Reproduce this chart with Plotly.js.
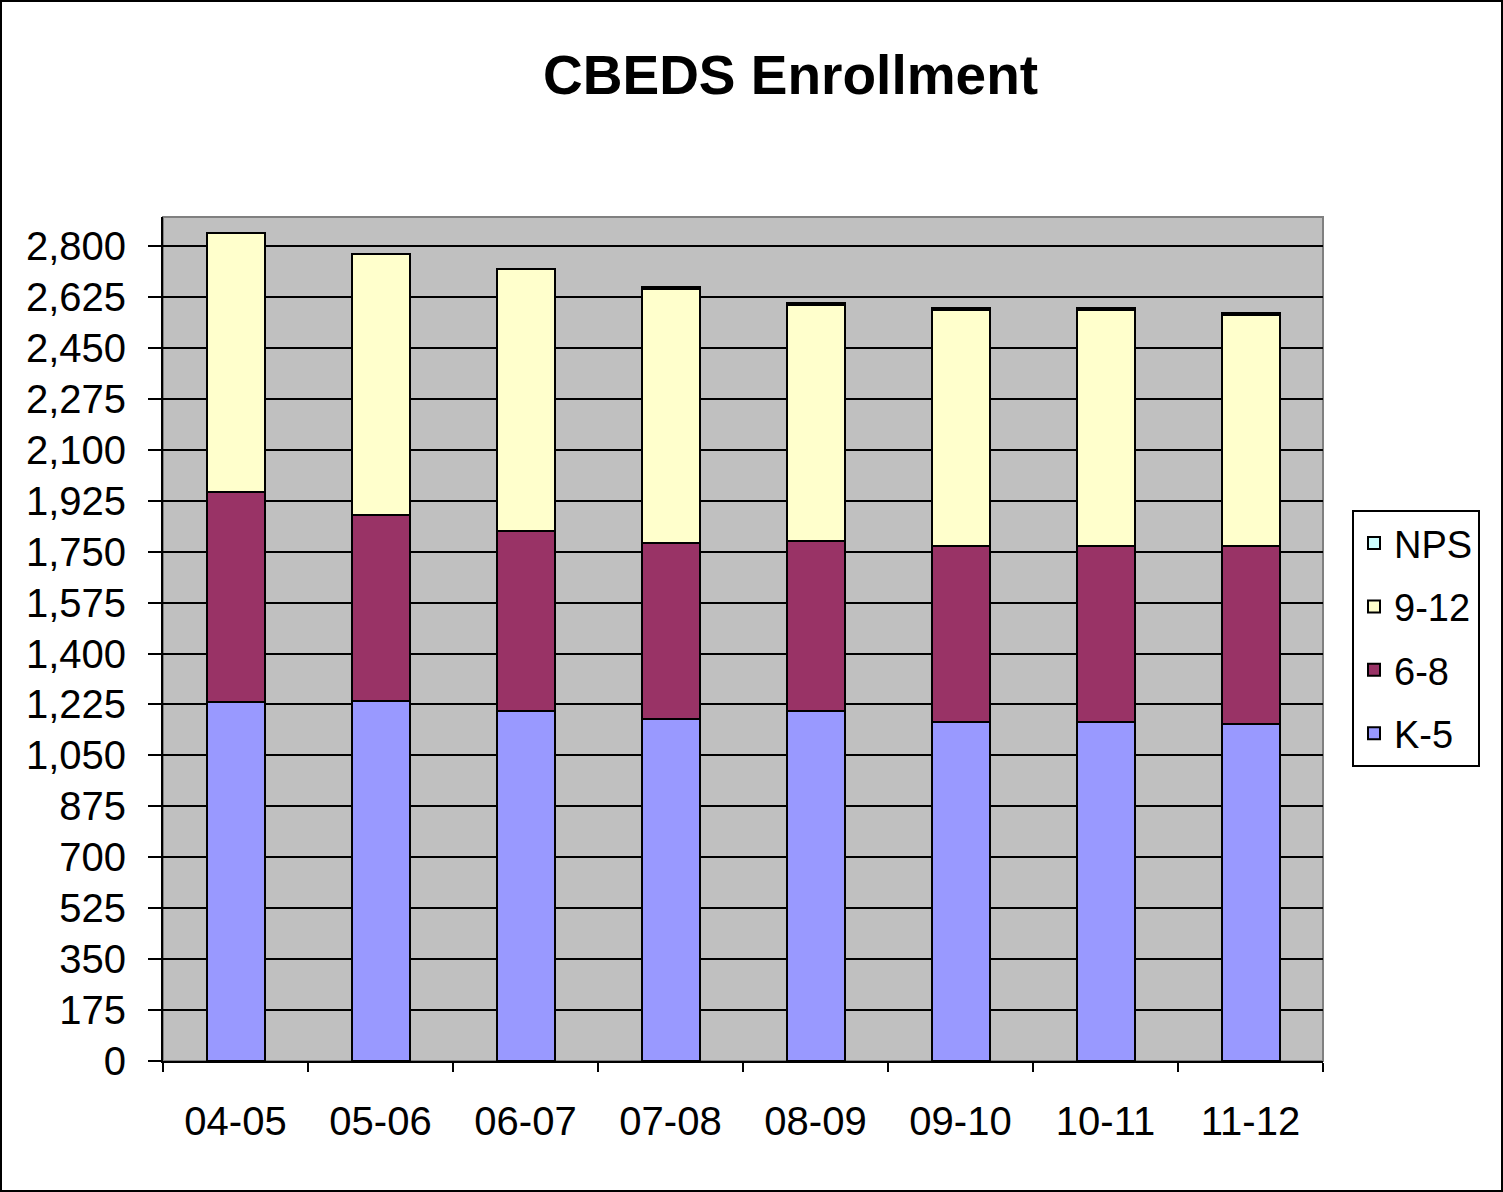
<!DOCTYPE html>
<html>
<head>
<meta charset="utf-8">
<script src="https://cdn.plot.ly/plotly-3.0.1.min.js"></script>
<style>
  html, body { margin: 0; padding: 0; background: #fff; }
  #wrap { position: relative; width: 1503px; height: 1192px; }
  #chart { width: 1503px; height: 1192px; }
  #frame { position: absolute; left: 0; top: 0; width: 1503px; height: 1192px; box-sizing: border-box; border: 2px solid #000; pointer-events: none; }
</style>
</head>
<body>
<div id="wrap"><div id="chart"></div><div id="frame"></div></div>
<script>
const years = ["04-05", "05-06", "06-07", "07-08", "08-09", "09-10", "10-11", "11-12"];
const k5    = [1234, 1236, 1201, 1174, 1202, 1166, 1166, 1157];
const g68   = [722, 640, 621, 605, 584, 603, 603, 612];
const g912  = [890, 898, 898, 873, 813, 811, 811, 794];
const nps   = [0, 0, 0, 6, 6, 6, 6, 6];
const yTicks = [0, 175, 350, 525, 700, 875, 1050, 1225, 1400, 1575, 1750, 1925, 2100, 2275, 2450, 2625, 2800];

const FONT = "Liberation Sans, Arial, sans-serif";
const line = { color: "#000", width: 2 };

function tr(name, vals, color, rank) {
  return { type: "bar", name: name, x: years, y: vals, legendgroup: name, legendrank: rank,
           marker: { color: color, line: line }, hoverinfo: "x+y+name" };
}

const data = [
  tr("K-5", k5, "#9999ff", 4),
  tr("6-8", g68, "#993366", 3),
  tr("9-12", g912, "#ffffcc", 2),
  tr("NPS", nps, "#ccffff", 1)
];

const layout = {
  width: 1503, height: 1192,
  margin: { l: 163, r: 180, t: 217, b: 131 },
  paper_bgcolor: "#fff",
  plot_bgcolor: "#c0c0c0",
  barmode: "stack",
  bargap: 0.6,
  font: { family: FONT, color: "#000", size: 38 },
  title: { text: "CBEDS Enrollment", font: { family: FONT, size: 55, weight: "bold", color: "#000" },
           x: 0.526, xref: "container", y: 0.937, yref: "container", xanchor: "center", yanchor: "middle" },
  xaxis: {
    type: "category", showgrid: false, showline: true, linecolor: "#000", linewidth: 2,
    ticks: "outside", tickson: "boundaries", ticklen: 9, tickwidth: 2, tickcolor: "#000",
    tickfont: { family: FONT, size: 40 }, ticklabelstandoff: 24, mirror: false
  },
  yaxis: {
    range: [0, 2900], tickvals: yTicks, tickformat: ",d",
    showgrid: true, gridcolor: "#000", gridwidth: 2,
    showline: true, linecolor: "#000", linewidth: 2,
    ticks: "outside", ticklen: 13, tickwidth: 2, tickcolor: "#000",
    tickfont: { family: FONT, size: 40 }, ticklabelstandoff: 14, zeroline: false
  },
  shapes: [
    { type: "rect", xref: "paper", yref: "paper", x0: 0, x1: 1, y0: 0, y1: 1,
      line: { color: "#808080", width: 2 }, fillcolor: "rgba(0,0,0,0)", layer: "below" }
  ],
  legend: {
    x: 1.025, xanchor: "left", y: 0.653, yanchor: "top",
    bgcolor: "#fff", bordercolor: "#000", borderwidth: 2,
    font: { family: FONT, size: 38 }, traceorder: "grouped", tracegroupgap: 11,
    itemwidth: 30
  },
  showlegend: true
};

Plotly.newPlot("chart", data, layout, { displayModeBar: false, staticPlot: true });
</script>
</body>
</html>
